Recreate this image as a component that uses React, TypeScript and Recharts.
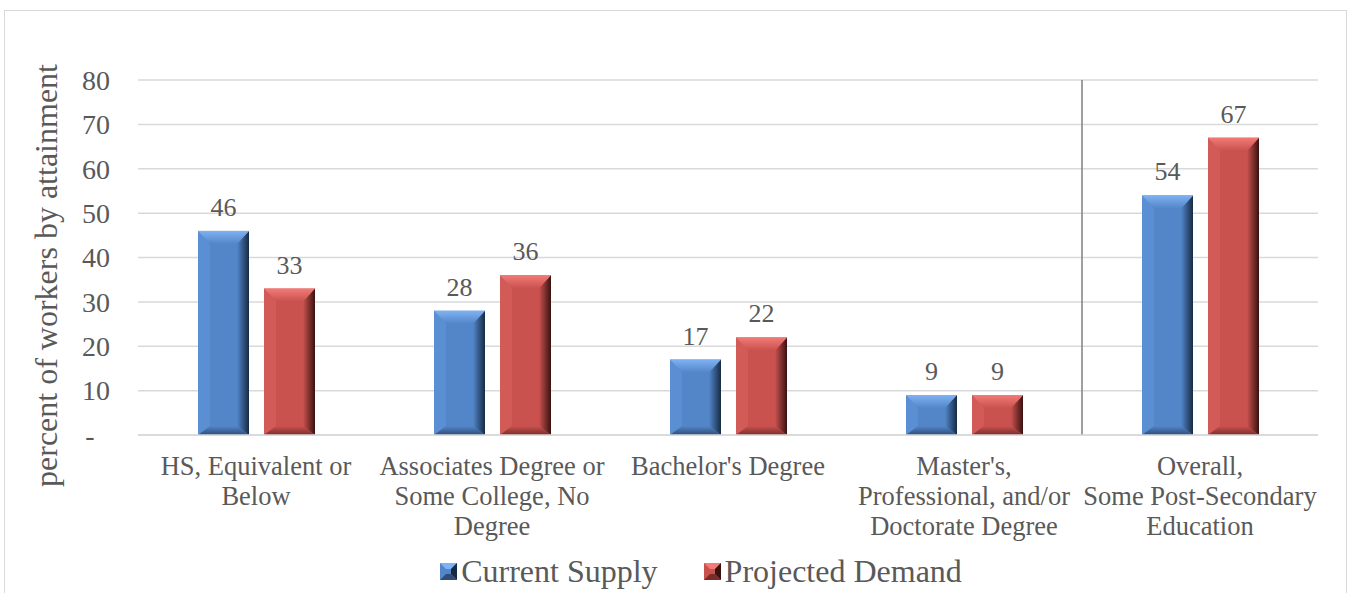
import React from "react";
import { ComposedChart, Bar, XAxis, YAxis, CartesianGrid, Legend, LabelList, ReferenceLine } from "recharts";

const categories = [
  "HS, Equivalent or\nBelow",
  "Associates Degree or\nSome College, No\nDegree",
  "Bachelor's Degree",
  "Master's,\nProfessional, and/or\nDoctorate Degree",
  "Overall,\nSome Post-Secondary\nEducation",
];
const currentSupply = [46, 28, 17, 9, 54];
const projectedDemand = [33, 36, 22, 9, 67];
const yTicks = [0, 10, 20, 30, 40, 50, 60, 70, 80];

const data = categories.map((name, i) => ({
  name,
  supply: currentSupply[i],
  demand: projectedDemand[i],
}));

const FONT = "'Liberation Serif', 'Times New Roman', serif";
const TEXT = "#595959";

type Palette = { id: string; main: string; light: string; side: string; dark: string; bottom: string };

const BLUE: Palette = { id: "blue", main: "#5286c9", light: "#7fb2f2", side: "#5a8fd3", dark: "#172a44", bottom: "#2f4d78" };
const RED: Palette = { id: "red", main: "#c9524f", light: "#f27b78", side: "#d25a57", dark: "#3a1111", bottom: "#7a2c2a" };

const BevelBar = (props: any) => {
  const { x, y, width: w, height: h, palette } = props;
  if (!h || h <= 0) return null;
  const p: Palette = palette;
  const b = Math.min(13, h / 2.5);
  const s = Math.min(12, w / 4);
  const bb = Math.min(9, h / 3);
  const pts = (arr: number[][]) => arr.map((q) => q.join(",")).join(" ");
  return (
    <g>
      <rect x={x} y={y} width={w} height={h} fill={p.main} />
      <polygon points={pts([[x, y], [x + s, y + b], [x + s, y + h - bb], [x, y + h]])} fill={p.side} />
      <polygon
        points={pts([[x + w, y], [x + w, y + h], [x + w - s, y + h - bb], [x + w - s, y + b]])}
        fill={`url(#side-${p.id})`}
      />
      <polygon
        points={pts([[x, y + h], [x + s, y + h - bb], [x + w - s, y + h - bb], [x + w, y + h]])}
        fill={`url(#bot-${p.id})`}
      />
      <polygon points={pts([[x, y], [x + w, y], [x + w - s, y + b], [x + s, y + b]])} fill={`url(#top-${p.id})`} />
    </g>
  );
};

const Gradients = () => (
  <defs>
    {[BLUE, RED].map((p) => (
      <React.Fragment key={p.id}>
        <linearGradient id={`side-${p.id}`} x1="0" y1="0" x2="1" y2="0">
          <stop offset="0%" stopColor={p.main} />
          <stop offset="100%" stopColor={p.dark} />
        </linearGradient>
        <linearGradient id={`bot-${p.id}`} x1="0" y1="0" x2="0" y2="1">
          <stop offset="0%" stopColor={p.main} />
          <stop offset="100%" stopColor={p.bottom} />
        </linearGradient>
        <linearGradient id={`top-${p.id}`} x1="0" y1="0" x2="0" y2="1">
          <stop offset="0%" stopColor={p.light} />
          <stop offset="100%" stopColor={p.main} />
        </linearGradient>
      </React.Fragment>
    ))}
  </defs>
);

const XTick = ({ x, y, payload }: any) => {
  const lines = String(payload.value).split("\n");
  return (
    <text x={x} y={y} textAnchor="middle" fill={TEXT} fontSize={26.5} fontFamily={FONT}>
      {lines.map((l, i) => (
        <tspan key={i} x={x} dy={i === 0 ? 0 : 30}>
          {l}
        </tspan>
      ))}
    </text>
  );
};

const YTick = ({ x, y, payload }: any) => {
  const zero = payload.value === 0;
  return (
    <text
      x={zero ? x - 20 : x}
      y={y}
      dy="0.35em"
      textAnchor={zero ? "middle" : "end"}
      fill={TEXT}
      fontSize={28}
      fontFamily={FONT}
    >
      {zero ? "-" : payload.value}
    </text>
  );
};

const YLabel = ({ viewBox }: any) => {
  const cx = viewBox.x + 46;
  const cy = viewBox.y + viewBox.height / 2 + 18;
  return (
    <text
      x={cx}
      y={cy}
      transform={`rotate(-90 ${cx} ${cy})`}
      textAnchor="middle"
      dominantBaseline="central"
      fill={TEXT}
      fontSize={32}
      fontFamily={FONT}
    >
      percent of workers by attainment
    </text>
  );
};

const LegendIcon = ({ p }: { p: Palette }) => (
  <svg width={17} height={17} style={{ marginRight: 4 }}>
    <rect x={0} y={0} width={17} height={17} fill={p.main} />
    <polygon points="0,0 17,0 11,6 6,6" fill={p.light} />
    <polygon points="17,0 17,17 11,11 11,6" fill={p.dark} />
    <polygon points="0,17 6,11 11,11 17,17" fill={p.bottom} />
  </svg>
);

const legendItems = [
  { label: "Current Supply", palette: BLUE },
  { label: "Projected Demand", palette: RED },
];

const LegendContent = () => (
  <div style={{ display: "flex", justifyContent: "center", alignItems: "center", paddingLeft: 53 }}>
    {legendItems.map((it, i) => (
      <div key={it.label} style={{ display: "flex", alignItems: "center", marginLeft: i ? 46 : 0 }}>
        <LegendIcon p={it.palette} />
        <span style={{ fontFamily: FONT, fontSize: 32, color: TEXT, lineHeight: "36px" }}>{it.label}</span>
      </div>
    ))}
  </div>
);

const DataLabel = ({ x, y, width, value }: any) => (
  <text x={x + width / 2} y={y - 15} textAnchor="middle" fill={TEXT} fontSize={26} fontFamily={FONT}>
    {value}
  </text>
);

export default function App() {
  return (
    <div style={{ position: "absolute", left: 0, top: 0, width: 1349, height: 593, background: "#fff", fontFamily: FONT }}>
      <div
        style={{
          position: "absolute",
          left: 4,
          top: 10,
          width: 1343,
          height: 600,
          border: "1px solid #d9d9d9",
          boxSizing: "border-box",
        }}
      />
      <ComposedChart
        width={1349}
        height={593}
        data={data}
        margin={{ top: 80, right: 31, left: 0, bottom: 58 }}
        barGap={15}
        style={{ position: "absolute", left: 0, top: 0, fontFamily: FONT }}
      >
        <Gradients />
        <CartesianGrid vertical={false} stroke="#d9d9d9" strokeWidth={1.5} />
        <XAxis
          dataKey="name"
          interval={0}
          height={100}
          axisLine={{ stroke: "#d9d9d9", strokeWidth: 1.5 }}
          tickLine={false}
          tickSize={0}
          tickMargin={40}
          tick={<XTick />}
        />
        <YAxis
          width={138}
          domain={[0, 80]}
          ticks={yTicks}
          axisLine={false}
          tickLine={false}
          tickSize={0}
          tickMargin={28}
          tick={<YTick />}
          label={<YLabel />}
        />
        <ReferenceLine x={categories[4]} position="start" stroke="#7f7f7f" strokeWidth={1.5} />
        <Legend
          layout="horizontal"
          verticalAlign="middle"
          content={<LegendContent />}
          wrapperStyle={{ top: 553, left: 0, width: 1349 }}
        />
        <Bar
          dataKey="supply"
          name="Current Supply"
          barSize={51}
          fill={BLUE.main}
          isAnimationActive={false}
          shape={(p: any) => <BevelBar {...p} palette={BLUE} />}
        >
          <LabelList dataKey="supply" content={<DataLabel />} />
        </Bar>
        <Bar
          dataKey="demand"
          name="Projected Demand"
          barSize={51}
          fill={RED.main}
          isAnimationActive={false}
          shape={(p: any) => <BevelBar {...p} palette={RED} />}
        >
          <LabelList dataKey="demand" content={<DataLabel />} />
        </Bar>
      </ComposedChart>
    </div>
  );
}
